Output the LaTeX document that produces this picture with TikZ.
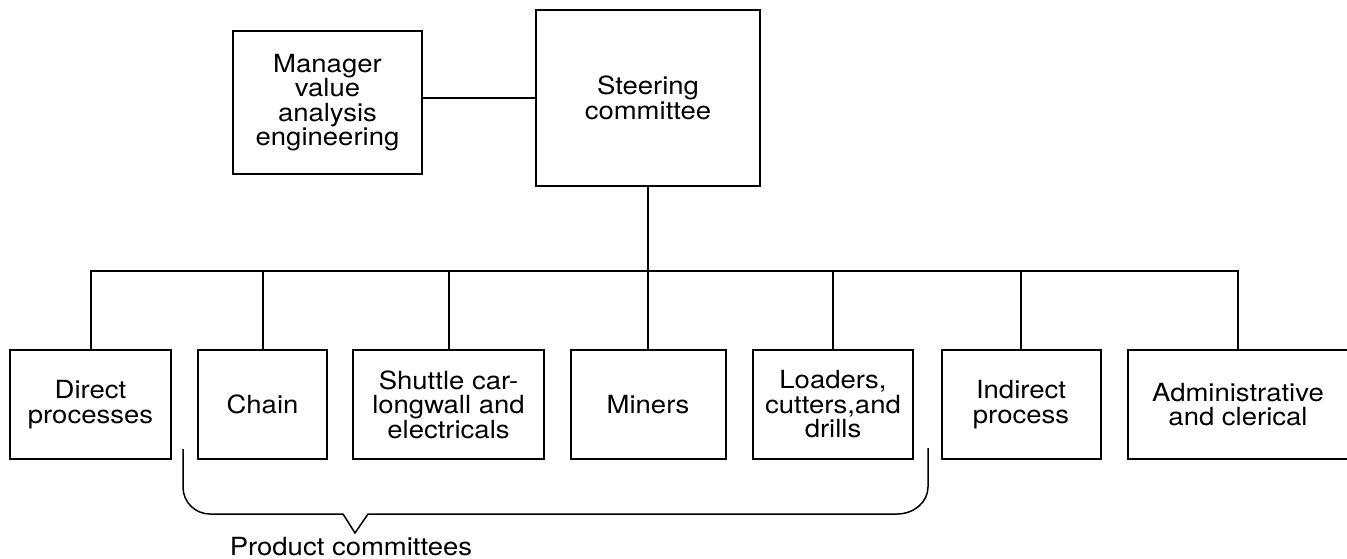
\documentclass[tikz,border=0pt]{standalone}
\usepackage{fontspec}
\setmainfont{TeX Gyre Heros}[FakeStretch=1.1]

\begin{document}
\begin{tikzpicture}[
    x=1pt, y=-1pt,
    line width=2pt,
    box/.style={draw, align=center, inner sep=0pt, minimum height=109pt, font=\fontsize{25}{24.5}\selectfont},
    label/.style={font=\fontsize{25}{24.5}\selectfont}
]

    \useasboundingbox (0,0) rectangle (1347,558);

    \node[box, minimum width=189pt, minimum height=143pt] (mgr) at (327.5,102.5) {Manager\\value\\analysis\\engineering};
    \node[box, minimum width=224pt, minimum height=176pt] (steer) at (648,98) {Steering\\committee};

    \node[box, minimum width=161pt] (direct) at (90.5,404.5) {Direct\\processes};
    \node[box, minimum width=129pt] (chain) at (262.5,404.5) {Chain};
    \node[box, minimum width=191pt] (shuttle) at (448.5,404.5) {Shuttle car-\\longwall and\\electricals};
    \node[box, minimum width=155pt] (miners) at (648,404.5) {Miners};
    \node[box, minimum width=160pt] (loaders) at (833,404.5) {Loaders,\\cutters,and\\drills};
    \node[box, minimum width=159pt] (indirect) at (1021,404.5) {Indirect\\process};
    \node[box, minimum width=220pt] (admin) at (1238,404.5) {Administrative\\and clerical};

    \coordinate (bus) at (648,271);

    \draw (steer.west) -- (steer.west -| mgr.east);
    \draw (steer.south) -- (bus);
    \draw (direct.north) |- (bus) -| (admin.north);
    \foreach \b in {chain,shuttle,miners,loaders,indirect}
        \draw (\b.north) -- (\b.north |- bus);

    % brace under the product committees
    \coordinate (brL) at (183,449);
    \coordinate (brR) at (928,448);
    \coordinate (tip) at (355,533);
    \draw[line width=1.5pt] (brL) -- (183,487) .. controls (183,502) and (195,514) .. (210,514)
        -- (343,514) -- (tip) -- (368,514) -- (897,514)
        .. controls (914,514) and (928,502) .. (928,487) -- (brR);

    \node[label, anchor=base] (prod) at (351,555) {Product committees};

\end{tikzpicture}
\end{document}
